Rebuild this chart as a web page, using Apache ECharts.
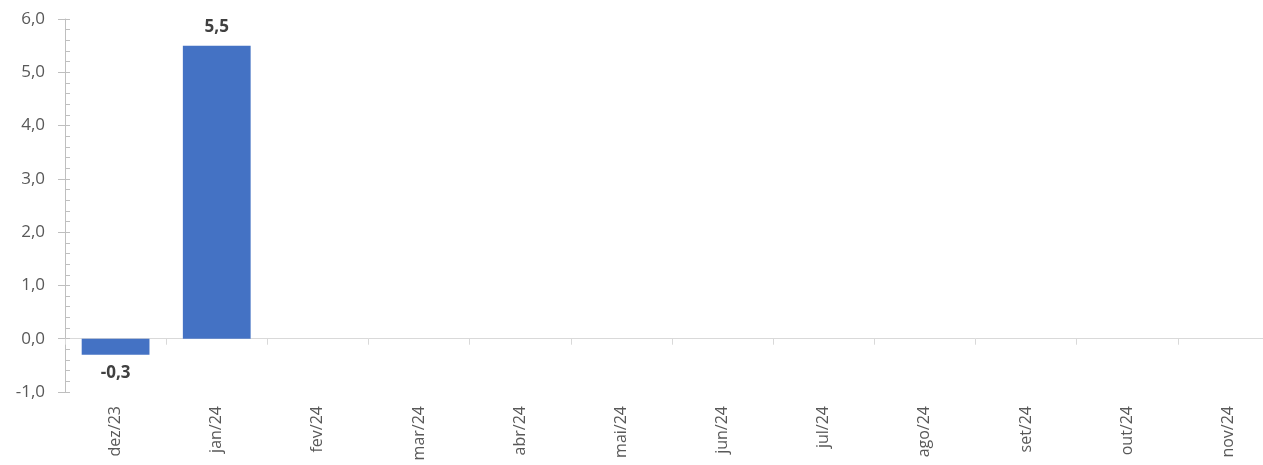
<!DOCTYPE html>
<html>
<head>
<meta charset="utf-8">
<script src="https://cdn.jsdelivr.net/npm/echarts@6/dist/echarts.min.js"></script>
<style>
  html, body { margin: 0; padding: 0; background: #fff; overflow: hidden; }
  /* a área do gráfico passa da borda direita (recortada, como no original) */
  #chart { width: 1279px; height: 465px; }
</style>
</head>
<body>
<div id="chart"></div>
<script>
// meses e variação (%)
var meses = ['dez/23', 'jan/24', 'fev/24', 'mar/24', 'abr/24', 'mai/24',
             'jun/24', 'jul/24', 'ago/24', 'set/24', 'out/24', 'nov/24'];
var valores = [-0.3, 5.5, null, null, null, null, null, null, null, null, null, null];
var eixoY = { min: -1, max: 6, interval: 1 };

function virgula(v, casas) {
    return Number(v).toFixed(casas).replace('.', ',');
}

var fonte = '"Open Sans", sans-serif';

echarts.init(document.getElementById('chart')).setOption({
    animation: false,
    grid: { left: 65, right: 0, top: 19, bottom: 73, containLabel: false },
    xAxis: [
        {
            type: 'category',
            data: meses,
            axisLine: { onZero: true, lineStyle: { color: '#d9d9d9', width: 1 } },
            axisTick: { show: true, length: 6, lineStyle: { color: '#d9d9d9' } },
            axisLabel: { show: false },
            splitLine: { show: false }
        },
        {
            type: 'category',
            data: meses,
            position: 'bottom',
            axisLine: { show: false, onZero: false },
            axisTick: { show: false },
            axisLabel: {
                rotate: 90,
                margin: 14,
                interval: 0,
                color: '#595959',
                fontSize: 16,
                fontFamily: fonte
            }
        }
    ],
    yAxis: [
        {
            type: 'value',
            min: eixoY.min,
            max: eixoY.max,
            interval: eixoY.interval,
            axisLine: { show: true, lineStyle: { color: '#bfbfbf' } },
            axisTick: { show: true, length: 7, lineStyle: { color: '#bfbfbf' } },
            axisLabel: {
                margin: 20,
                color: '#595959',
                fontSize: 17,
                fontFamily: fonte,
                formatter: function (v) { return virgula(v, 1); }
            },
            splitLine: { show: false }
        },
        {
            // ticks internos + minor ticks
            type: 'value',
            position: 'left',
            min: eixoY.min,
            max: eixoY.max,
            interval: eixoY.interval,
            axisLine: { show: false },
            axisTick: { show: true, inside: true, length: 5, lineStyle: { color: '#bfbfbf' } },
            minorTick: { show: true, splitNumber: 5, length: 5, lineStyle: { color: '#bfbfbf' } },
            axisLabel: { show: false },
            splitLine: { show: false }
        }
    ],
    series: [
        {
            type: 'bar',
            data: valores,
            xAxisIndex: 0,
            yAxisIndex: 0,
            barCategoryGap: '33%',
            itemStyle: { color: '#4472c4' },
            label: {
                show: true,
                position: 'outside',
                distance: 10,
                color: '#404040',
                fontWeight: 'bold',
                fontSize: 17,
                fontFamily: fonte,
                formatter: function (p) { return virgula(p.value, 1); }
            }
        }
    ]
});
</script>
</body>
</html>
